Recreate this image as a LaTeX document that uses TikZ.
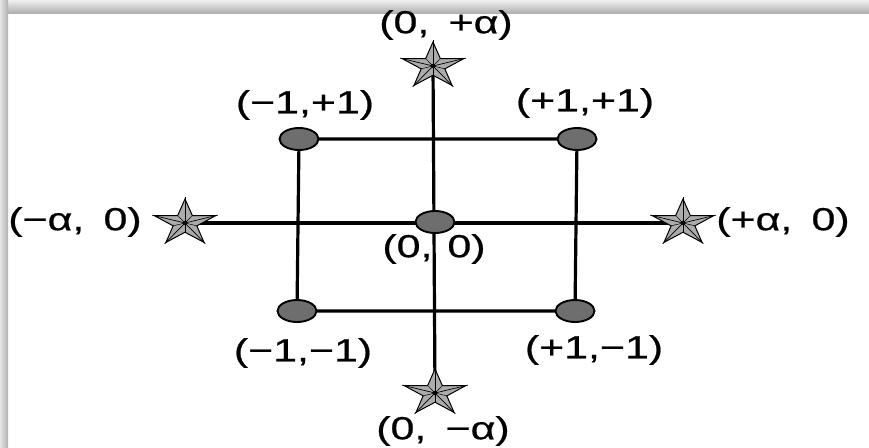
\documentclass[tikz,border=0pt]{standalone}
\usepackage{fontspec}
\usepackage{graphicx}
\setmainfont{Liberation Sans}
\newfontfamily\lblfont[FakeBold=0.5]{Liberation Sans}
\usetikzlibrary{shapes.geometric,backgrounds}
\newcommand{\wl}[1]{\scalebox{1.34}[1]{#1}}
\begin{document}
\begin{tikzpicture}[x=1pt,y=-1pt,
  axis/.style={line width=3.2pt, black},
  dot/.style={ellipse, draw=black, line width=1.9pt, fill=dotgray, minimum width=39pt, minimum height=22pt, inner sep=0pt},
  starnode/.style={star, star points=5, star point ratio=2.6, minimum size=48pt, draw=black, line width=1pt, fill=stargray, inner sep=0pt, xscale=1.35},
  ridge/.style={black, line width=0.7pt},
  lbl/.style={font=\lblfont\fontsize{32}{36}\selectfont, inner sep=0pt}]
\definecolor{dotgray}{HTML}{6E6E6E}
\definecolor{stargray}{HTML}{ABABAB}
\useasboundingbox (0,0) rectangle (869,447);

% points
\node[dot] (mp) at (299,139) {};
\node[dot] (pp) at (577,139) {};
\node[dot] (mm) at (297,311) {};
\node[dot] (pm) at (575,311) {};
\node[dot] (oo) at (435,222) {};

% stars
\node[starnode] (st) at (433,66) {};
\node[starnode] (sb) at (435,393) {};
\node[starnode] (sl) at (185,223) {};
\node[starnode] (sr) at (683,223) {};
\foreach \s in {st,sb,sl,sr}{
  \foreach \i in {1,...,5}{
    \draw[ridge] (\s.center) -- (\s.outer point \i);
    \draw[ridge, line width=0.5pt] (\s.center) -- (\s.inner point \i);
  }
  \fill[black] (\s.center) circle (2.2pt);
}

% frame and connectors behind
\begin{pgfonlayer}{background}
\fill[white] (0,0) rectangle (869,447);
\shade[top color=gray!12, bottom color=gray!62] (0,0) rectangle (869,13);
\shade[left color=gray!20, right color=gray!62] (0,0) rectangle (8,447);
\draw[axis] (st.center) -- (sb.center);
\draw[axis] (sl.center) -- (sr.center);
\draw[axis] (mp.center) -- (pp.center) -- (pm.center) -- (mm.center) -- cycle;
\end{pgfonlayer}

% labels
\node[lbl] (lt) at (446,25) {\wl{(0,\hspace{0.45em}+α)}};
\node[lbl] (lmp) at (305,105) {\wl{(−1,+1)}};
\node[lbl] (lpp) at (585,103) {\wl{(+1,+1)}};
\node[lbl] (ll) at (75,222) {\wl{(−α,\hspace{0.45em}0)}};
\node[lbl] (lr) at (783,222) {\wl{(+α,\hspace{0.45em}0)}};
\node[lbl] (loo) at (434,249) {\wl{(0,\hspace{0.35em}0)}};
\node[lbl] (lmm) at (303,353) {\wl{(−1,−1)}};
\node[lbl] (lpm) at (594,350) {\wl{(+1,−1)}};
\node[lbl] (lb) at (443,431) {\wl{(0,\hspace{0.45em}−α)}};
\end{tikzpicture}
\end{document}
